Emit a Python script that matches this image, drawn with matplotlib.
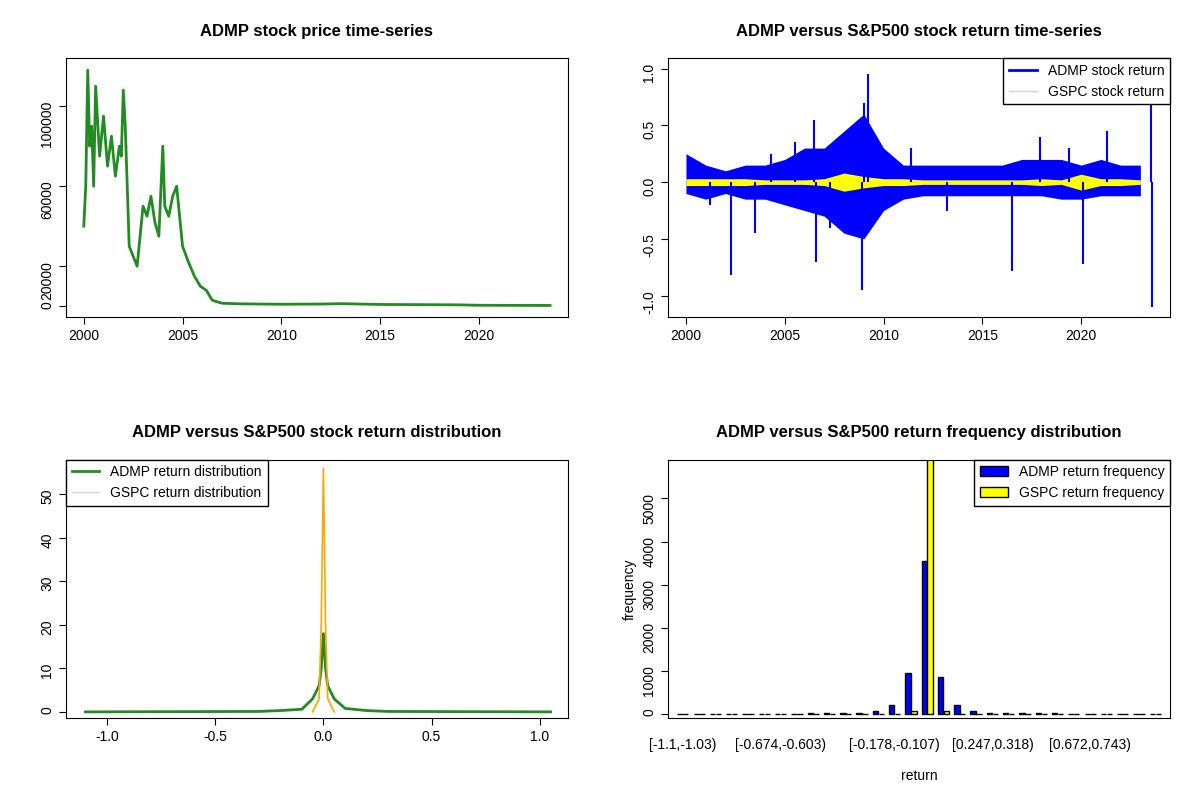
import matplotlib
matplotlib.use("Agg")
import matplotlib.pyplot as plt
import numpy as np

plt.rcParams['font.family'] = ['Liberation Sans', 'DejaVu Sans']
plt.rcParams['font.size'] = 10
plt.rcParams['axes.unicode_minus'] = False

# price series (year, price)
price_t = [2000.0, 2000.1, 2000.2, 2000.3, 2000.4, 2000.5, 2000.6, 2000.8, 2001.0, 2001.2, 2001.4,
           2001.6, 2001.8, 2001.9, 2002.0, 2002.1, 2002.2, 2002.3, 2002.5, 2002.7, 2002.9, 2003.0,
           2003.2, 2003.4, 2003.6, 2003.8, 2004.0, 2004.1, 2004.3, 2004.5, 2004.7, 2004.9, 2005.0,
           2005.3, 2005.6, 2005.9, 2006.2, 2006.5, 2007.0, 2008.0, 2010.0, 2012.0, 2013.0, 2015.0,
           2019.0, 2020.0, 2023.6]
price_v = [40000, 60000, 118000, 80000, 90000, 60000, 110000, 75000, 95000, 70000, 85000,
           65000, 80000, 75000, 108000, 90000, 60000, 30000, 25000, 20000, 40000, 50000,
           45000, 55000, 42000, 35000, 80000, 50000, 45000, 55000, 60000, 40000, 30000,
           22000, 15000, 10000, 8000, 3000, 1500, 1200, 1000, 1100, 1300, 900,
           700, 500, 400]

# return envelopes per year
ret_years = list(range(2000, 2024))
admp_hi = [0.25, 0.15, 0.1, 0.15, 0.15, 0.2, 0.3, 0.3, 0.45, 0.6, 0.3, 0.15, 0.15, 0.15, 0.15, 0.15,
           0.15, 0.2, 0.2, 0.2, 0.15, 0.2, 0.15, 0.15]
admp_lo = [-0.1, -0.15, -0.1, -0.15, -0.15, -0.2, -0.25, -0.3, -0.45, -0.5, -0.25, -0.15, -0.12, -0.12,
           -0.12, -0.12, -0.12, -0.12, -0.12, -0.15, -0.15, -0.12, -0.12, -0.12]
gspc_hi = [0.03, 0.03, 0.03, 0.03, 0.02, 0.02, 0.02, 0.03, 0.08, 0.05, 0.03, 0.03, 0.02, 0.02, 0.02,
           0.02, 0.02, 0.02, 0.03, 0.02, 0.07, 0.03, 0.03, 0.02]
spike_t = [2002.3, 2008.9, 2009.2, 2006.6, 2016.5, 2020.1, 2023.6, 2023.55, 2021.3, 2017.9, 2003.5,
           2006.5, 2009.0, 2005.5, 2007.3, 2011.4, 2013.2, 2019.4, 2001.2, 2004.3]
spike_v = [-0.82, -0.95, 0.95, -0.7, -0.78, -0.72, -1.1, 0.68, 0.45, 0.4, -0.45,
           0.55, 0.7, 0.35, -0.4, 0.3, -0.25, 0.3, -0.2, 0.25]

# densities
dens_admp_x = [-1.1, -0.3, -0.2, -0.1, -0.05, -0.02, -0.01, 0.0, 0.01, 0.02, 0.05, 0.1, 0.2, 0.3, 1.05]
dens_admp_y = [0.0, 0.1, 0.3, 0.6, 3.0, 6.0, 10.0, 18.0, 10.0, 6.0, 3.0, 0.8, 0.3, 0.1, 0.0]
dens_gspc_x = [-0.05, -0.02, -0.01, 0.0, 0.01, 0.02, 0.05]
dens_gspc_y = [0.0, 3.0, 20.0, 56.0, 20.0, 3.0, 0.0]

# histogram counts
bin_lo = [-1.1 + 0.0708 * i for i in range(30)]
bin_labels = ["[-1.1,-1.03)", "[-0.674,-0.603)", "[-0.178,-0.107)", "[0.247,0.318)", "[0.672,0.743)"]
bin_label_idx = [0, 6, 13, 19, 25]
admp_freq = [2, 2, 2, 2, 2, 2, 2, 2, 25, 30, 30, 30, 80, 200, 960, 3560, 850, 200, 80, 30,
             25, 25, 25, 25, 2, 2, 2, 2, 2, 2]
gspc_freq = [0] * 14 + [70, 6000, 70] + [0] * 13

fig, axes = plt.subplots(2, 2, figsize=(12, 8), dpi=100)
plt.subplots_adjust(left=0.055, right=0.975, top=0.927, bottom=0.102, hspace=0.55, wspace=0.2)
for ax in axes.flat:
    ax.tick_params(direction='out', length=5, labelsize=10)

ax = axes[0, 0]
ax.plot(price_t, price_v, color='forestgreen', lw=2)
ax.set_title("ADMP stock price time-series", fontweight='bold', fontsize=12, pad=16)
ax.set_yticks([0, 20000, 60000, 100000])
ax.set_xticks([2000, 2005, 2010, 2015, 2020])
ax.tick_params(axis='y', labelrotation=90)
ax.set_xlim(1999.1, 2024.5)

ax = axes[0, 1]
ax.fill_between(ret_years, admp_lo, admp_hi, color='blue', lw=0)
ax.vlines(spike_t, 0, spike_v, color='blue', lw=1.5)
ax.fill_between(ret_years, [-v for v in gspc_hi], gspc_hi, color='yellow', lw=0)
ax.plot([], [], color='blue', lw=2, label='ADMP stock return')
ax.plot([], [], color='lightgray', lw=1, label='GSPC stock return')
ax.set_title("ADMP versus S&P500 stock return time-series", fontweight='bold', fontsize=12, pad=16)
ax.set_yticks([-1.0, -0.5, 0.0, 0.5, 1.0])
ax.set_xticks([2000, 2005, 2010, 2015, 2020])
ax.tick_params(axis='y', labelrotation=90)
ax.set_xlim(1999.1, 2024.5)
ax.set_ylim(-1.19, 1.09)
ax.legend(loc='upper right', fancybox=False, edgecolor='black', borderaxespad=0, framealpha=1)

ax = axes[1, 0]
ax.plot(dens_admp_x, dens_admp_y, color='forestgreen', lw=2)
ax.plot(dens_gspc_x, dens_gspc_y, color='orange', lw=1.2)
ax.plot([], [], color='forestgreen', lw=2, label='ADMP return distribution')
ax.plot([], [], color='lightgray', lw=1, label='GSPC return distribution')
ax.set_title("ADMP versus S&P500 stock return distribution", fontweight='bold', fontsize=12, pad=16)
ax.set_xlim(-1.19, 1.13)
ax.set_ylim(-1.5, 58)
ax.set_yticks([0, 10, 20, 30, 40, 50])
ax.tick_params(axis='y', labelrotation=90)
ax.legend(loc='upper left', fancybox=False, edgecolor='black', borderaxespad=0, framealpha=1)

ax = axes[1, 1]
x = np.arange(len(bin_lo))
ax.bar(x - 0.18, admp_freq, width=0.33, color='blue', edgecolor='black', lw=1, label='ADMP return frequency')
ax.bar(x + 0.18, gspc_freq, width=0.33, color='yellow', edgecolor='black', lw=1, label='GSPC return frequency')
ax.set_title("ADMP versus S&P500 return frequency distribution", fontweight='bold', fontsize=12, pad=16)
ax.set_ylim(-100, 5900)
ax.set_xlim(-0.9, len(bin_lo) - 0.1)
ax.set_yticks([0, 1000, 2000, 3000, 4000, 5000])
ax.tick_params(axis='y', labelrotation=90)
ax.set_xticks(bin_label_idx)
ax.set_xticklabels(bin_labels)
ax.tick_params(axis='x', length=0, pad=14)
ax.set_xlabel("return", labelpad=12)
ax.set_ylabel("frequency")
ax.legend(loc='upper right', fancybox=False, edgecolor='black', borderaxespad=0, framealpha=1)

fig.savefig("out.png")
